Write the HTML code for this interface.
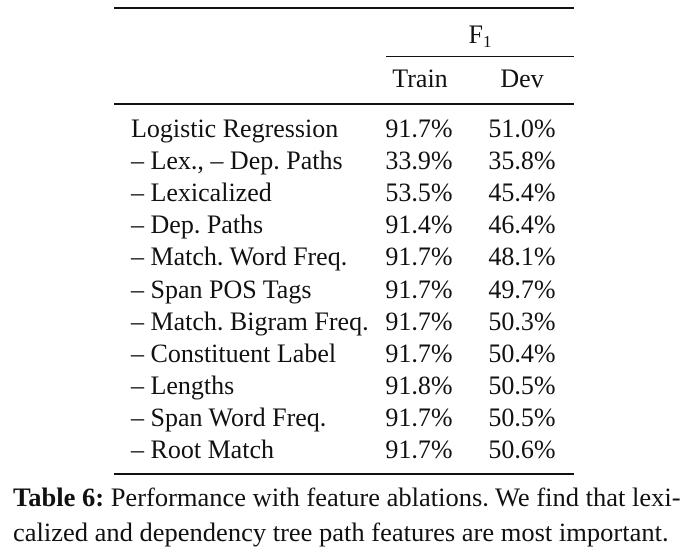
<!DOCTYPE html>
<html><head><meta charset="utf-8"><style>
body{margin:0;background:#fff;width:687px;height:557px;overflow:hidden;position:relative;font-family:"Liberation Serif","Times New Roman",serif;color:#111}
.t{position:absolute;font-size:26px;line-height:32px;white-space:nowrap}
.r{position:absolute;background:#111}
.c{text-align:center;width:100px}
.cap{position:absolute;left:13px;width:666px;font-size:26.5px;line-height:35px;text-align:justify;text-align-last:justify;white-space:nowrap}
</style></head><body>
<div class="r" style="left:114px;top:7px;width:460px;height:2px"></div>
<div class="t c" style="left:430px;top:19px">F<sub style="font-size:17px;vertical-align:-4px">1</sub></div>
<div class="r" style="left:386px;top:56px;width:188px;height:1px"></div>
<div class="t c" style="left:370px;top:63px">Train</div>
<div class="t c" style="left:472px;top:63px">Dev</div>
<div class="r" style="left:114px;top:103px;width:460px;height:1.5px"></div>
<div id="rows"></div>
<div class="r" style="left:114px;top:473px;width:460px;height:2px"></div>
<div class="cap" style="top:480px"><b>Table 6:</b> Performance with feature ablations. We find that lexi-</div>
<div class="cap" style="top:515px;text-align-last:left">calized and dependency tree path features are most important.</div>
<script>
const labels=["Logistic Regression","– Lex., – Dep. Paths","– Lexicalized","– Dep. Paths","– Match. Word Freq.","– Span POS Tags","– Match. Bigram Freq.","– Constituent Label","– Lengths","– Span Word Freq.","– Root Match"];
const train=["91.7%","33.9%","53.5%","91.4%","91.7%","91.7%","91.7%","91.7%","91.8%","91.7%","91.7%"];
const dev=["51.0%","35.8%","45.4%","46.4%","48.1%","49.7%","50.3%","50.4%","50.5%","50.5%","50.6%"];
const box=document.getElementById('rows');
labels.forEach((l,i)=>{
  const top=113+i*32.1;
  const a=document.createElement('div');a.className='t';a.style.left='131px';a.style.top=top+'px';a.textContent=l;
  
  
  box.appendChild(a);
  const b=document.createElement('div');b.className='t c';b.style.left='369px';b.style.top=top+'px';b.textContent=train[i];
  
  
  box.appendChild(b);
  const c=document.createElement('div');c.className='t c';c.style.left='472px';c.style.top=top+'px';c.textContent=dev[i];
  
  
  box.appendChild(c);
});
</script>
</body></html>
